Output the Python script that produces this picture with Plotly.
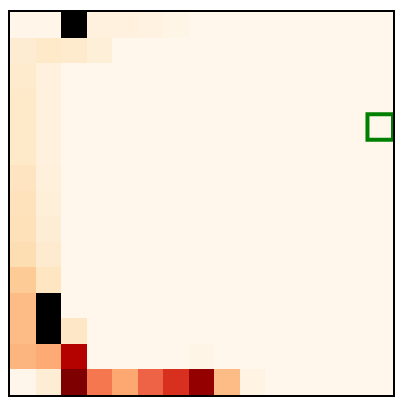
import plotly.graph_objects as go

n_rows = 15
n_cols = 15
row_labels = list(range(n_rows))
col_labels = list(range(n_cols))

# Values (0..1 scale); None = masked cell (drawn black)
N = None
values = [
    [0.01, 0.01, N,    0.05, 0.05, 0.04, 0.02, 0, 0, 0, 0, 0, 0, 0, 0],
    [0.09, 0.12, 0.11, 0.07, 0,    0,    0,    0, 0, 0, 0, 0, 0, 0, 0],
    [0.11, 0.05, 0,    0,    0,    0,    0,    0, 0, 0, 0, 0, 0, 0, 0],
    [0.12, 0.05, 0,    0,    0,    0,    0,    0, 0, 0, 0, 0, 0, 0, 0],
    [0.12, 0.05, 0,    0,    0,    0,    0,    0, 0, 0, 0, 0, 0, 0, 0],
    [0.12, 0.05, 0,    0,    0,    0,    0,    0, 0, 0, 0, 0, 0, 0, 0],
    [0.15, 0.06, 0,    0,    0,    0,    0,    0, 0, 0, 0, 0, 0, 0, 0],
    [0.16, 0.07, 0,    0,    0,    0,    0,    0, 0, 0, 0, 0, 0, 0, 0],
    [0.17, 0.08, 0,    0,    0,    0,    0,    0, 0, 0, 0, 0, 0, 0, 0],
    [0.19, 0.10, 0,    0,    0,    0,    0,    0, 0, 0, 0, 0, 0, 0, 0],
    [0.29, 0.14, 0,    0,    0,    0,    0,    0, 0, 0, 0, 0, 0, 0, 0],
    [0.37, N,    0,    0,    0,    0,    0,    0, 0, 0, 0, 0, 0, 0, 0],
    [0.37, N,    0.13, 0,    0,    0,    0,    0, 0, 0, 0, 0, 0, 0, 0],
    [0.39, 0.42, 0.87, 0,    0,    0,    0,    0.02, 0, 0, 0, 0, 0, 0, 0],
    [0.005, 0.08, 1.0, 0.57, 0.43, 0.63, 0.75, 0.95, 0.37, 0.03, 0, 0, 0, 0, 0],
]

# highlighted cell (row, col)
highlight_row = 4
highlight_col = 14

mask = [[1 if v is None else None for v in row] for row in values]

fig = go.Figure()
fig.add_trace(go.Heatmap(
    z=values, x=col_labels, y=row_labels,
    colorscale="OrRd", zmin=0, zmax=1, showscale=False,
    hoverongaps=False,
))
fig.add_trace(go.Heatmap(
    z=mask, x=col_labels, y=row_labels,
    colorscale=[[0, "black"], [1, "black"]], zmin=0, zmax=1,
    showscale=False, hoverongaps=False,
))

fig.add_shape(
    type="rect", xref="x", yref="y",
    x0=highlight_col - 0.5, x1=highlight_col + 0.5,
    y0=highlight_row - 0.5, y1=highlight_row + 0.5,
    line=dict(color="green", width=4), layer="above",
)

fig.update_xaxes(range=[-0.5, n_cols - 0.5], showticklabels=False, ticks="",
                 showgrid=False, zeroline=False, showline=True,
                 linecolor="black", linewidth=1.5, mirror=True)
fig.update_yaxes(range=[n_rows - 0.5, -0.5], showticklabels=False, ticks="",
                 showgrid=False, zeroline=False, showline=True,
                 linecolor="black", linewidth=1.5, mirror=True)

fig.update_layout(
    width=389, height=389,
    margin=dict(l=2, r=3, t=2, b=2),
    paper_bgcolor="white", plot_bgcolor="white",
)

fig.write_html("out.html")
